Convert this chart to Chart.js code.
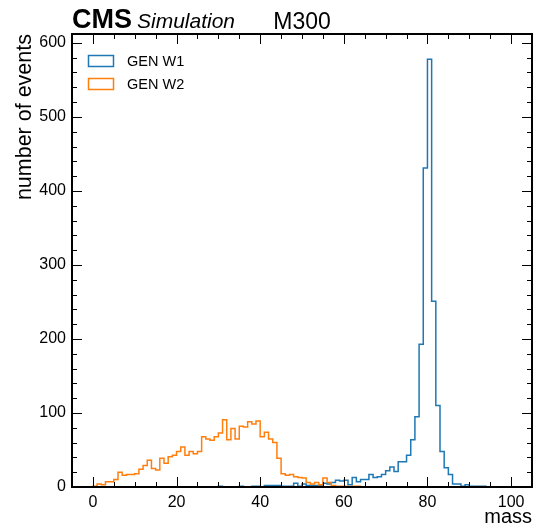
<!DOCTYPE html>
<html>
<head>
<meta charset="utf-8">
<title>M300 GEN W mass</title>
<script src="https://cdn.jsdelivr.net/npm/chart.js@4.4.1/dist/chart.umd.min.js"></script>
<style>
  html, body { margin:0; padding:0; background:#fff; }
  #wrap { position:relative; width:534px; height:530px; }
</style>
</head>
<body>
<div id="wrap"><canvas id="massChart"></canvas></div>
<script>
/* ── Histogram data: 1-unit bins, first edge at 0 ── */
const BIN_LO = 0;
const BIN_W  = 1;

const W1_COUNTS = [
  0,0,0,0,0,0,0,0,0,0,
  0,0,0,0,0,0,0,0,0,0,
  0,0,0,0,0,0,0,0,0,0,
  1,0,0,0,0,1,0,0,1,1,
  0,2,2,2,2,1,1,1,5,1,
  4,2,2,2,2,5,4,6,9,8,
  9,3,13,7,10,10,17,13,14,17,
  22,27,21,34,34,43,64,95,193,431,
  578,251,110,48,26,17,4,4,1,3,
  1,1,1,1,0,0,0,0,0,0
];
const W2_COUNTS = [
  1,4,3,7,7,10,20,16,17,17,
  18,24,29,36,25,23,39,32,41,43,
  48,54,43,48,45,48,68,65,63,68,
  73,91,64,79,65,82,81,88,85,89,
  68,74,65,60,39,18,16,17,14,13,
  12,6,4,6,3,12,6,2,1,1,
  1,0,1,1,0,0,0,0,0,0,
  0,0,0,0,0,0,0,0,0,0,
  0,0,0,0,0,0,0,0,0,0,
  0,0,0,0,0,0,0,0,0,0
];

const SERIES  = ['GEN W1', 'GEN W2'];
const X_TICKS = [0, 20, 40, 60, 80, 100];
const Y_TICKS = [0, 100, 200, 300, 400, 500, 600];
const X_MINOR = 5;
const Y_MINOR = 20;
const X_RANGE = [-5, 105];
const Y_RANGE = [0, 612];

const COLORS = ['#1f77b4', '#ff7f0e'];
const FONT = "'Liberation Sans', Arial, sans-serif";

/* step outline like histtype='step' */
function stepPoints(counts) {
  const pts = [{ x: BIN_LO, y: 0 }];
  counts.forEach((c, i) => pts.push({ x: BIN_LO + i * BIN_W, y: c }));
  pts.push({ x: BIN_LO + counts.length * BIN_W, y: 0 });
  return pts;
}

/* ── frame, inward ticks, header, legend ── */
const cmsDecor = {
  id: 'cmsDecor',
  afterDatasetsDraw(chart) {
    const { ctx, chartArea: a, scales: { x, y } } = chart;
    ctx.save();
    ctx.strokeStyle = '#000';
    ctx.lineWidth = 1;
    ctx.beginPath();
    for (let v = Math.ceil(x.min / X_MINOR) * X_MINOR; v <= x.max; v += X_MINOR) {
      const px = Math.round(x.getPixelForValue(v)) + 0.5;
      const len = X_TICKS.includes(v) ? 10 : 5;
      ctx.moveTo(px, a.bottom); ctx.lineTo(px, a.bottom - len);
      ctx.moveTo(px, a.top);    ctx.lineTo(px, a.top + len);
    }
    for (let v = Math.ceil(y.min / Y_MINOR) * Y_MINOR; v <= y.max; v += Y_MINOR) {
      const py = Math.round(y.getPixelForValue(v)) + 0.5;
      const len = Y_TICKS.includes(v) ? 10 : 5;
      ctx.moveTo(a.left, py);  ctx.lineTo(a.left + len, py);
      ctx.moveTo(a.right, py); ctx.lineTo(a.right - len, py);
    }
    ctx.stroke();
    ctx.lineWidth = 2;
    ctx.strokeRect(a.left, a.top, a.width, a.height);

    // legend (outlined boxes)
    ctx.lineWidth = 1.5;
    ctx.textBaseline = 'middle';
    ctx.textAlign = 'left';
    ctx.font = `14.5px ${FONT}`;
    chart.data.datasets.forEach((ds, i) => {
      const top = a.top + 21 + i * 23;
      ctx.strokeStyle = ds.borderColor;
      ctx.strokeRect(a.left + 16.5, top + 0.5, 25, 11);
      ctx.fillStyle = '#000';
      ctx.fillText(ds.label, a.left + 55, top + 6.5);
    });

    // header
    ctx.textBaseline = 'alphabetic';
    ctx.fillStyle = '#000';
    ctx.font = `bold 27px ${FONT}`;
    ctx.fillText('CMS', a.left, a.top - 6);
    const w = ctx.measureText('CMS').width;
    ctx.font = `italic 21px ${FONT}`;
    ctx.fillText('Simulation', a.left + w + 5, a.top - 6);
    ctx.font = `23px ${FONT}`;
    ctx.textAlign = 'center';
    ctx.fillText('M300', (a.left + a.right) / 2, a.top - 5);
    ctx.restore();
  }
};

new Chart(document.getElementById('massChart'), {
  type: 'line',
  data: {
    datasets: [
      { label: SERIES[0], data: stepPoints(W1_COUNTS), borderColor: COLORS[0], backgroundColor: 'transparent',
        borderWidth: 1.5, stepped: 'before', pointRadius: 0, fill: false, order: 1 },
      { label: SERIES[1], data: stepPoints(W2_COUNTS), borderColor: COLORS[1], backgroundColor: 'transparent',
        borderWidth: 1.5, stepped: 'before', pointRadius: 0, fill: false, order: 0 },
    ]
  },
  options: {
    responsive: true, maintainAspectRatio: false, animation: false,
    layout: { padding: { top: 34, right: 2, left: 0, bottom: 0 } },
    plugins: { legend: { display: false }, tooltip: { enabled: false } },
    scales: {
      x: {
        type: 'linear', min: X_RANGE[0], max: X_RANGE[1],
        grid: { display: false, drawTicks: false }, border: { display: false },
        afterBuildTicks: s => { s.ticks = X_TICKS.map(v => ({ value: v })); },
        afterFit: s => { s.height = 43; },
        ticks: { color: '#000', font: { family: FONT, size: 16 }, padding: 6, maxRotation: 0 },
        title: { display: true, text: 'mass', align: 'end', color: '#000',
                 font: { family: FONT, size: 20 }, padding: { top: 0, bottom: 1 } }
      },
      y: {
        type: 'linear', min: Y_RANGE[0], max: Y_RANGE[1],
        grid: { display: false, drawTicks: false }, border: { display: false },
        afterBuildTicks: s => { s.ticks = Y_TICKS.map(v => ({ value: v })); },
        afterFit: s => { s.width = 72; },
        ticks: { color: '#000', font: { family: FONT, size: 16 }, padding: 6 },
        title: { display: true, text: 'number of events', align: 'end', color: '#000',
                 font: { family: FONT, size: 21.5 }, padding: { top: 12, bottom: 0 } }
      }
    }
  },
  plugins: [cmsDecor]
});
</script>
</body>
</html>
